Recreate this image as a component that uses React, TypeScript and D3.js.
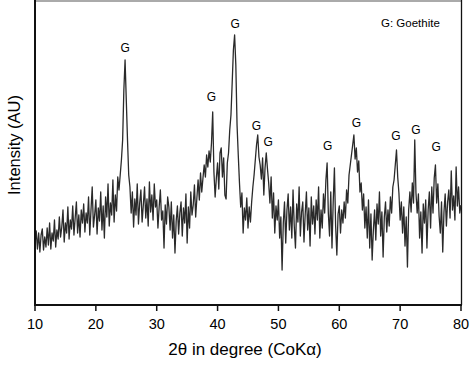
import React from "react";
import * as d3 from "d3";

// 2θ from 10 to 80 in 0.2° steps; intensity (arbitrary units)
const startDeg = 10;
const stepDeg = 0.2;
const intensity: number[] = [
  62, 74, 56, 72, 53, 70, 76, 55, 68, 58,
  77, 60, 82, 56, 72, 64, 85, 58, 75, 66,
  88, 68, 78, 95, 63, 82, 72, 98, 66, 85,
  76, 99, 70, 87, 103, 72, 90, 68, 95, 82,
  101, 73, 92, 82, 108, 70, 95, 118, 78, 90,
  105, 71, 97, 84, 113, 75, 99, 67, 108, 88,
  121, 79, 102, 90, 125, 83, 110, 94, 128, 115,
  130, 145, 165, 215, 245, 205, 165, 130, 118, 92,
  113, 78, 106, 90, 121, 81, 102, 115, 83, 100,
  118, 87, 106, 79, 123, 93, 110, 85, 121, 98,
  105, 77, 98, 115, 85, 94, 57, 100, 81, 108,
  98, 75, 103, 67, 90, 52, 84, 99, 71, 92,
  103, 69, 97, 82, 111, 62, 98, 77, 113, 90,
  100, 120, 88, 107, 125, 105, 132, 113, 127, 140,
  128, 150, 138, 154, 143, 162, 193, 133, 108, 127,
  142, 116, 152, 157, 128, 147, 110, 106, 142, 152,
  175, 190, 222, 255, 270, 240, 180, 150, 122, 98,
  112, 72, 97, 85, 107, 77, 98, 83, 103, 118,
  130, 145, 160, 170, 148, 140, 126, 147, 110, 137,
  152, 136, 122, 102, 128, 87, 112, 72, 99, 85,
  105, 67, 88, 35, 82, 103, 62, 95, 111, 75,
  98, 67, 115, 79, 57, 101, 83, 118, 69, 93,
  103, 63, 91, 113, 75, 97, 59, 108, 81, 99,
  71, 105, 85, 118, 67, 95, 77, 111, 92, 125,
  142, 92, 69, 113, 57, 103, 137, 79, 50, 91,
  99, 72, 95, 82, 103, 87, 115, 102, 130, 140,
  150, 160, 170, 146, 157, 133, 144, 113, 122, 95,
  111, 77, 98, 67, 105, 57, 91, 45, 75, 95,
  65, 101, 81, 113, 69, 93, 48, 88, 103, 73,
  95, 79, 108, 92, 118, 125, 140, 155, 128, 112,
  85, 103, 72, 98, 59, 88, 38, 95, 113, 93,
  122, 102, 165, 112, 92, 111, 67, 93, 52, 101,
  82, 105, 57, 95, 113, 77, 118, 92, 127, 140,
  102, 121, 89, 72, 103, 53, 93, 111, 79, 103,
  115, 87, 134, 95, 109, 85, 138, 99, 118, 92,
  100,
];

// peak labels: 2θ and intensity level of the label
const labelDeg: number[] = [24.8, 39.0, 42.9, 46.4, 48.3, 58.1, 62.8, 69.3, 72.6, 75.9];
const labelLevel: number[] = [257, 208, 281, 179, 163, 159, 182, 169, 175, 158];
const labelText = "G";

const xTicks: number[] = [10, 20, 30, 40, 50, 60, 70, 80];
const xTitle = "2θ in degree (CoKα)";
const yTitle = "Intensity (AU)";
const legendText = "G: Goethite";

const W = 474;
const H = 371;
const m = { left: 35, right: 461, top: 1, bottom: 305 };

export default function App() {
  const x = d3.scaleLinear().domain([10, 80]).range([m.left, m.right]);
  const y = d3.scaleLinear().domain([0, 304]).range([m.bottom, m.top]);
  const pts = intensity.map((v, i) => [startDeg + i * stepDeg, v] as [number, number]);
  const line = d3
    .line<[number, number]>()
    .x((d) => x(d[0]))
    .y((d) => y(d[1]));
  const font = "'Liberation Sans', Arial, sans-serif";
  return (
    <svg
      width={W}
      height={H}
      style={{ position: "absolute", left: 0, top: 0, background: "#fff" }}
      fontFamily={font}
    >
      <rect x={0} y={0} width={W} height={H} fill="#fff" />
      {/* frame */}
      <line x1={m.left} x2={m.right + 1} y1={1} y2={1} stroke="#aaa" strokeWidth={2} />
      <line x1={m.right + 0.5} x2={m.right + 0.5} y1={0} y2={m.bottom} stroke="#111" strokeWidth={1.3} />
      <path d={line(pts) || ""} fill="none" stroke="#2a2a2a" strokeWidth={1.3} strokeLinejoin="round" />
      <line x1={m.left} x2={m.left} y1={0} y2={m.bottom + 1} stroke="#111" strokeWidth={2} />
      <line x1={m.left - 1} x2={m.right + 1} y1={m.bottom} y2={m.bottom} stroke="#111" strokeWidth={2} />
      {xTicks.map((t) => (
        <g key={t}>
          <line x1={x(t)} x2={x(t)} y1={m.bottom} y2={m.bottom + 6} stroke="#111" strokeWidth={1.5} />
          <text x={x(t)} y={329} textAnchor="middle" fontSize={14.5} fill="#000">
            {t}
          </text>
        </g>
      ))}
      <text x={245} y={355} textAnchor="middle" fontSize={17} fill="#000">
        {xTitle}
      </text>
      <text
        transform={`translate(20,145) rotate(-90)`}
        textAnchor="middle"
        fontSize={16.5}
        fill="#000"
      >
        {yTitle}
      </text>
      {labelDeg.map((d, i) => (
        <text key={i} x={x(d)} y={y(labelLevel[i]) + 4} textAnchor="middle" fontSize={12} fill="#000">
          {labelText}
        </text>
      ))}
      <text x={381} y={27} fontSize={11.5} fill="#000">
        {legendText}
      </text>
    </svg>
  );
}
